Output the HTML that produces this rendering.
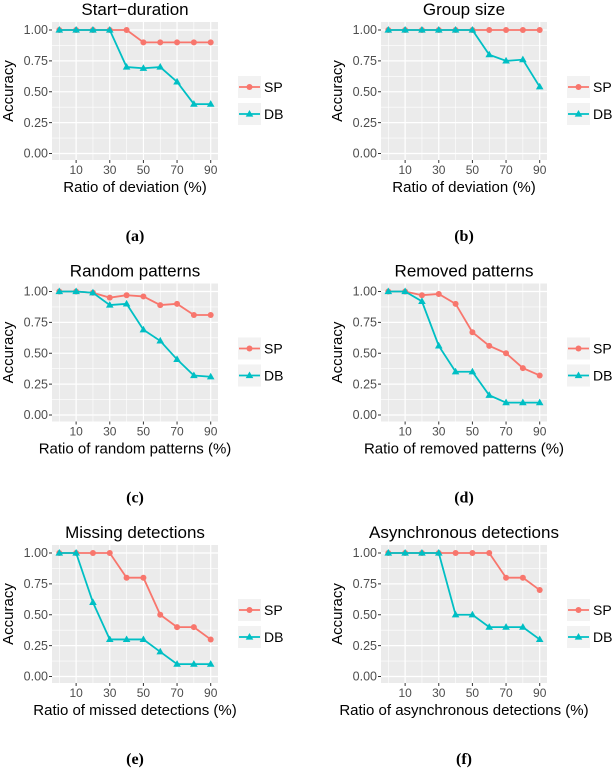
<!DOCTYPE html>
<html><head><meta charset="utf-8"><style>
body{margin:0;background:#fff}
svg{font-family:"Liberation Sans",sans-serif}
</style></head><body>
<svg id="fig" width="612" height="770" viewBox="0 0 612 770" xmlns="http://www.w3.org/2000/svg"></svg>
<script>
const xVals=[0,10,20,30,40,50,60,70,80,90];
const xTicks=[10,30,50,70,90];
const yTicks=[0,0.25,0.5,0.75,1];
const yTickLabels=["0.00","0.25","0.50","0.75","1.00"];
const titles=["Start\u2212duration","Group size","Random patterns","Removed patterns","Missing detections","Asynchronous detections"];
const xTitles=["Ratio of deviation (%)","Ratio of deviation (%)","Ratio of random patterns (%)","Ratio of removed patterns (%)","Ratio of missed detections (%)","Ratio of asynchronous detections (%)"];
const captions=["(a)","(b)","(c)","(d)","(e)","(f)"];
const spA=[1,1,1,1,1,.9,.9,.9,.9,.9], dbA=[1,1,1,1,.7,.69,.7,.58,.4,.4];
const spB=[1,1,1,1,1,1,1,1,1,1], dbB=[1,1,1,1,1,1,.8,.75,.76,.54];
const spC=[1,1,.99,.95,.97,.96,.89,.9,.81,.81], dbC=[1,1,.99,.89,.9,.69,.6,.45,.32,.31];
const spD=[1,1,.97,.98,.9,.67,.56,.5,.38,.32], dbD=[1,1,.92,.56,.35,.35,.16,.1,.1,.1];
const spE=[1,1,1,1,.8,.8,.5,.4,.4,.3], dbE=[1,1,.6,.3,.3,.3,.2,.1,.1,.1];
const spF=[1,1,1,1,1,1,1,.8,.8,.7], dbF=[1,1,1,1,.5,.5,.4,.4,.4,.3];
const SP=[spA,spB,spC,spD,spE,spF], DB=[dbA,dbB,dbC,dbD,dbE,dbF];
const NS="http://www.w3.org/2000/svg";
const svg=document.getElementById('fig');
function el(t,a,p){const e=document.createElementNS(NS,t);for(const k in a)e.setAttribute(k,a[k]);(p||svg).appendChild(e);return e;}
function txt(s,a,p){const e=el('text',a,p);e.textContent=s;return e;}
const SPC="#F8766D",DBC="#00BFC4";
for(let i=0;i<6;i++){
  const col=i%2,row=Math.floor(i/2);
  const ox=col*329,oy=row*261.5;
  const g=el('g',{});
  
  
  const X=v=>ox+59.3+v*(151.4/90);
  const Y=v=>oy+153.5-v*123.5;
  const L=ox+52,R=ox+218,T=oy+22,B=oy+160;
  const bg=el('rect',{x:L,y:T,width:R-L,height:B-T,fill:"#EBEBEB"},g);
  
  [0,20,40,60,80].forEach(v=>el('line',{x1:X(v),x2:X(v),y1:T,y2:B,stroke:"#fff","stroke-width":0.6},g));
  [0.125,0.375,0.625,0.875].forEach(v=>el('line',{x1:L,x2:R,y1:Y(v),y2:Y(v),stroke:"#fff","stroke-width":0.6},g));
  xTicks.forEach(v=>{el('line',{x1:X(v),x2:X(v),y1:T,y2:B,stroke:"#fff","stroke-width":1.2},g);
    el('line',{x1:X(v),x2:X(v),y1:B,y2:B+3,stroke:"#333","stroke-width":1},g);
    txt(String(v),{x:X(v),y:B+14,"font-size":12,fill:"#4d4d4d","text-anchor":"middle"},g);});
  yTicks.forEach((v,k)=>{el('line',{x1:L,x2:R,y1:Y(v),y2:Y(v),stroke:"#fff","stroke-width":1.2},g);
    el('line',{x1:L-3,x2:L,y1:Y(v),y2:Y(v),stroke:"#333","stroke-width":1},g);
    txt(yTickLabels[k],{x:L-4,y:Y(v)+4.2,"font-size":12.5,fill:"#4d4d4d","text-anchor":"end"},g);});
  const t=txt(titles[i],{x:(L+R)/2,y:oy+15,"font-size":17,fill:"#000","text-anchor":"middle"},g);
  
  const xt=txt(xTitles[i],{x:(L+R)/2,y:B+32,"font-size":15,fill:"#000","text-anchor":"middle"},g);
  
  const yt=txt("Accuracy",{x:0,y:0,"font-size":15,fill:"#000","text-anchor":"middle",transform:`translate(${ox+13},${(T+B)/2}) rotate(-90)`},g);
  
  const cp=txt(captions[i],{x:(L+R)/2,y:oy+241,"font-size":16,"font-weight":"bold","font-family":"Liberation Serif,serif","text-anchor":"middle"},g);
  
  [[SP[i],SPC,'sp'],[DB[i],DBC,'db']].forEach(([d,c,n])=>{
    const pl=el('polyline',{points:d.map((v,k)=>X(xVals[k])+","+Y(v)).join(" "),fill:"none",stroke:c,"stroke-width":1.8},g);
    
    d.forEach((v,k)=>{let m;const x=X(xVals[k]),y=Y(v);
      if(n==='sp')m=el('circle',{cx:x,cy:y,r:3,fill:c},g);
      else m=el('polygon',{points:`${x},${y-4} ${x-3.8},${y+2.6} ${x+3.8},${y+2.6}`,fill:c},g);
      });
  });
  [["SP",SPC,87],["DB",DBC,114]].forEach(([lab,c,yy],k)=>{
    const lg=el('g',{},g);
    
    el('rect',{x:ox+238,y:oy+yy-11,width:23,height:22,fill:"#F2F2F2"},lg);
    el('line',{x1:ox+239,x2:ox+260,y1:oy+yy,y2:oy+yy,stroke:c,"stroke-width":1.8},lg);
    if(k===0)el('circle',{cx:ox+249.5,cy:oy+yy,r:3,fill:c},lg);
    else el('polygon',{points:`${ox+249.5},${oy+yy-4} ${ox+245.7},${oy+yy+2.6} ${ox+253.3},${oy+yy+2.6}`,fill:c},lg);
    txt(lab,{x:ox+264,y:oy+yy+5,"font-size":14,fill:"#000"},lg);
  });
}
</script>
</body></html>
